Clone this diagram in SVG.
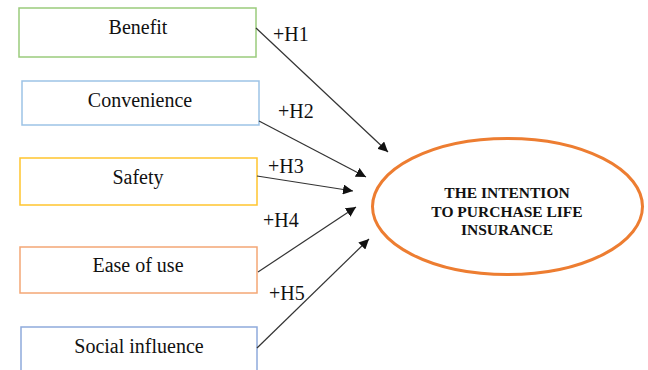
<svg xmlns="http://www.w3.org/2000/svg" width="648" height="370" viewBox="0 0 648 370">
<defs>
<style>
.box{fill:#fff;stroke-width:1.5}
.lbl{font-family:"Liberation Serif","Times New Roman",serif;font-size:20px;fill:#111;text-anchor:middle}
.h{font-family:"Liberation Serif","Times New Roman",serif;font-size:20px;fill:#111}
.c{stroke:#333;stroke-width:1.2;fill:none;marker-end:url(#ah)}
.t{font-family:"Liberation Serif","Times New Roman",serif;font-size:15.5px;font-weight:bold;fill:#111;text-anchor:middle}
</style>
<marker id="ah" viewBox="0 0 10 10" refX="10" refY="5" markerWidth="10" markerHeight="10" markerUnits="userSpaceOnUse" orient="auto">
<path d="M0,0 L10,5 L0,10 z" fill="#111"/>
</marker>
</defs>
<rect width="648" height="370" fill="#fff"/>
<g id="benefit"><rect class="box" x="19" y="8" width="237" height="49" stroke="#9ACB7C"/><text class="lbl" x="138" y="34">Benefit</text></g>
<g id="convenience"><rect class="box" x="22" y="81" width="237" height="44" stroke="#9DC3E6"/><text class="lbl" x="140" y="107">Convenience</text></g>
<g id="safety"><rect class="box" x="20" y="158" width="237" height="47" stroke="#FFC52E"/><text class="lbl" x="138" y="184">Safety</text></g>
<g id="ease"><rect class="box" x="20" y="247" width="237" height="46" stroke="#F4A775"/><text class="lbl" x="138" y="272">Ease of use</text></g>
<g id="social"><rect class="box" x="21" y="327" width="236" height="60" stroke="#8FAADC"/><text class="lbl" x="139" y="353">Social influence</text></g>
<g id="intention"><ellipse cx="507.5" cy="206.5" rx="135" ry="68" fill="#fff" stroke="#ED7D31" stroke-width="3"/>
<text class="t" x="507" y="198">THE INTENTION</text>
<text class="t" x="507" y="217">TO PURCHASE LIFE</text>
<text class="t" x="507" y="235">INSURANCE</text></g>
<g id="connectors">
<line class="c" x1="256" y1="28" x2="388" y2="152"/>
<line class="c" x1="259" y1="121" x2="366" y2="177"/>
<line class="c" x1="257" y1="176" x2="353" y2="191"/>
<line class="c" x1="258" y1="272" x2="356" y2="207"/>
<line class="c" x1="257" y1="348" x2="369" y2="239"/>
<text class="h" x="273" y="41">+H1</text>
<text class="h" x="278" y="118">+H2</text>
<text class="h" x="268" y="173">+H3</text>
<text class="h" x="263" y="227">+H4</text>
<text class="h" x="269" y="300">+H5</text>
</g>
</svg>
